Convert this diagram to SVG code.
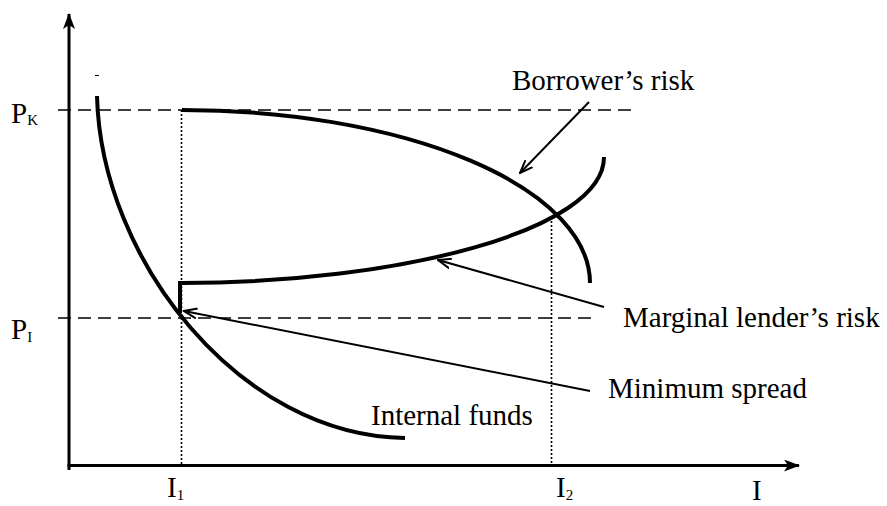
<svg xmlns="http://www.w3.org/2000/svg" width="887" height="506" viewBox="0 0 887 506">
  <defs>
    <style>
      text { font-size: 29px; fill: #000; }
      .sub { font-size: 15px; }
      .axis { stroke: #000; stroke-width: 3; fill: none; }
      .dash { stroke: #000; stroke-width: 1.6; fill: none; stroke-dasharray: 13 7; }
      .dot { stroke: #000; stroke-width: 1.6; fill: none; stroke-dasharray: 2 2; }
      .curve { stroke: #000; stroke-width: 4; fill: none; }
      .ptr { stroke: #000; stroke-width: 2; fill: none; }
    </style>
    <marker id="axhead" viewBox="0 0 16 12" refX="15" refY="6" markerWidth="16" markerHeight="12" markerUnits="userSpaceOnUse" orient="auto">
      <path d="M0,0 L16,6 L0,12 L4,6 Z" fill="#000"/>
    </marker>
    <marker id="open" viewBox="0 0 14 12" refX="13" refY="6" markerWidth="14" markerHeight="12" markerUnits="userSpaceOnUse" orient="auto">
      <path d="M0,1 L13,6 L0,11" fill="none" stroke="#000" stroke-width="2"/>
    </marker>
  </defs>

  <g id="axes">
    <line class="axis" x1="69" y1="470" x2="69" y2="14" marker-end="url(#axhead)"/>
    <line class="axis" x1="67.5" y1="465.5" x2="799" y2="465.5" marker-end="url(#axhead)"/>
    <line x1="95" y1="75.5" x2="99" y2="75.5" stroke="#000" stroke-width="1"/>
  </g>

  <g id="guides">
    <line class="dash" x1="58" y1="110" x2="634" y2="110"/>
    <line class="dash" x1="58" y1="318" x2="591" y2="318"/>
    <line class="dot" x1="181.5" y1="110" x2="181.5" y2="465"/>
    <line class="dot" x1="551.5" y1="217" x2="551.5" y2="465"/>
  </g>

  <g font-family="Liberation Serif, serif">
  <g id="internal-funds">
    <path class="curve" d="M97,96 C101,260 240,436 405,438"/>
    <text x="371" y="425">Internal funds</text>
  </g>

  <g id="borrowers-risk">
    <path class="curve" d="M182,110 A408,173 0 0 1 590,283"/>
    <text x="512" y="90">Borrower’s risk</text>
  </g>

  <g id="marginal-lenders-risk">
    <path class="curve" d="M180,313 L180,283 L182,283 C400,283 604,230 604,157"/>
    <text x="623" y="327">Marginal lender’s risk</text>
  </g>

  <g id="minimum-spread">
    <text x="608" y="398">Minimum spread</text>
  </g>

  <g id="axis-labels">
    <text x="11" y="123">P<tspan class="sub" dy="2">K</tspan></text>
    <text x="11" y="339">P<tspan class="sub" dy="3">I</tspan></text>
    <text x="167" y="497">I<tspan class="sub" dy="3">1</tspan></text>
    <text x="556" y="497">I<tspan class="sub" dy="3">2</tspan></text>
    <text x="752" y="500">I</text>
  </g>
  </g>

  <g id="connectors">
    <line class="ptr" x1="589" y1="102" x2="520" y2="173" marker-end="url(#open)"/>
    <line class="ptr" x1="604" y1="307" x2="438" y2="260" marker-end="url(#open)"/>
    <line class="ptr" x1="590" y1="391" x2="184" y2="311" marker-end="url(#open)"/>
  </g>
</svg>
